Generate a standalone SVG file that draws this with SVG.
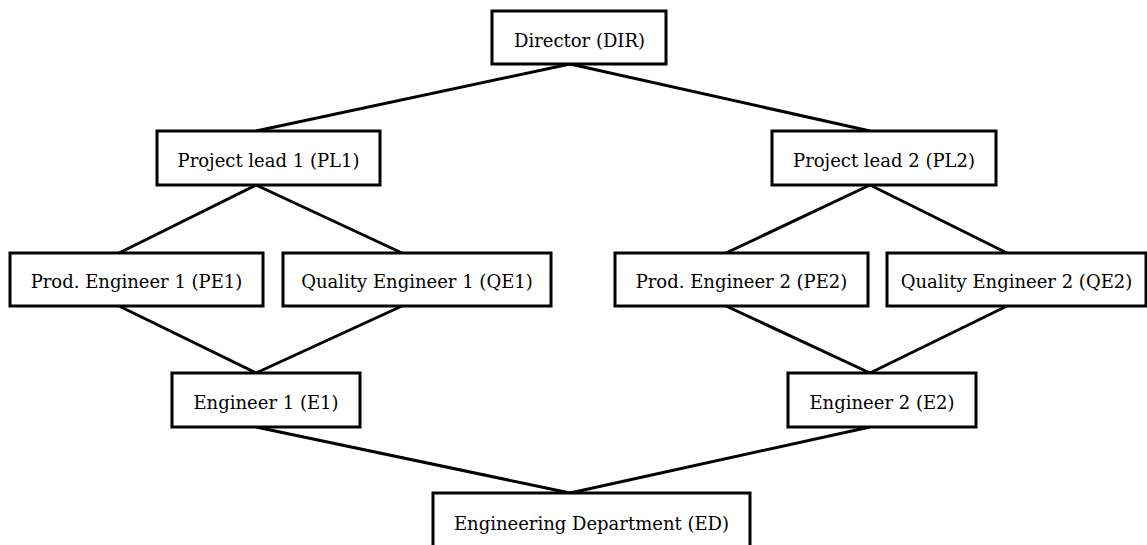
<svg xmlns="http://www.w3.org/2000/svg" width="1147" height="545" viewBox="0 0 1147 545">
  <style>
    .box { fill: #ffffff; stroke: #000000; stroke-width: 3; }
    .lbl { font-family: "DejaVu Serif", serif; font-size: 18px; fill: #000000; text-anchor: middle; dominant-baseline: central; }
    .edge { stroke: #000000; stroke-width: 3; fill: none; }
  </style>
  <rect width="1147" height="545" fill="#ffffff"/>
  <g id="connectors">
    <line class="edge" x1="570" y1="64" x2="256" y2="131"/>
    <line class="edge" x1="570" y1="64" x2="870" y2="131"/>
    <line class="edge" x1="256" y1="185" x2="119" y2="253"/>
    <line class="edge" x1="256" y1="185" x2="402" y2="253"/>
    <line class="edge" x1="870" y1="185" x2="726" y2="253"/>
    <line class="edge" x1="870" y1="185" x2="1007" y2="253"/>
    <line class="edge" x1="119" y1="306" x2="256" y2="373"/>
    <line class="edge" x1="402" y1="306" x2="256" y2="373"/>
    <line class="edge" x1="726" y1="306" x2="870" y2="373"/>
    <line class="edge" x1="1007" y1="306" x2="870" y2="373"/>
    <line class="edge" x1="256" y1="427" x2="570" y2="493"/>
    <line class="edge" x1="870" y1="427" x2="570" y2="493"/>
  </g>
  <g id="DIR">
    <rect class="box" x="492" y="11" width="174" height="53"/>
    <text class="lbl" x="579.5" y="40">Director (DIR)</text>
  </g>
  <g id="PL1">
    <rect class="box" x="157" y="131" width="223" height="54"/>
    <text class="lbl" x="268.5" y="160">Project lead 1 (PL1)</text>
  </g>
  <g id="PL2">
    <rect class="box" x="772" y="131" width="224" height="54"/>
    <text class="lbl" x="884" y="160">Project lead 2 (PL2)</text>
  </g>
  <g id="PE1">
    <rect class="box" x="10" y="253" width="253" height="53"/>
    <text class="lbl" x="136.5" y="281">Prod. Engineer 1 (PE1)</text>
  </g>
  <g id="QE1">
    <rect class="box" x="283" y="253" width="268" height="53"/>
    <text class="lbl" x="417" y="281">Quality Engineer 1 (QE1)</text>
  </g>
  <g id="PE2">
    <rect class="box" x="615" y="253" width="253" height="53"/>
    <text class="lbl" x="741.5" y="281">Prod. Engineer 2 (PE2)</text>
  </g>
  <g id="QE2">
    <rect class="box" x="887" y="253" width="259" height="53"/>
    <text class="lbl" x="1016.5" y="281">Quality Engineer 2 (QE2)</text>
  </g>
  <g id="E1">
    <rect class="box" x="172" y="373" width="188" height="54"/>
    <text class="lbl" x="266" y="402">Engineer 1 (E1)</text>
  </g>
  <g id="E2">
    <rect class="box" x="788" y="373" width="188" height="54"/>
    <text class="lbl" x="882" y="402">Engineer 2 (E2)</text>
  </g>
  <g id="ED">
    <rect class="box" x="433" y="493" width="317" height="60"/>
    <text class="lbl" x="591.5" y="523">Engineering Department (ED)</text>
  </g>
</svg>
